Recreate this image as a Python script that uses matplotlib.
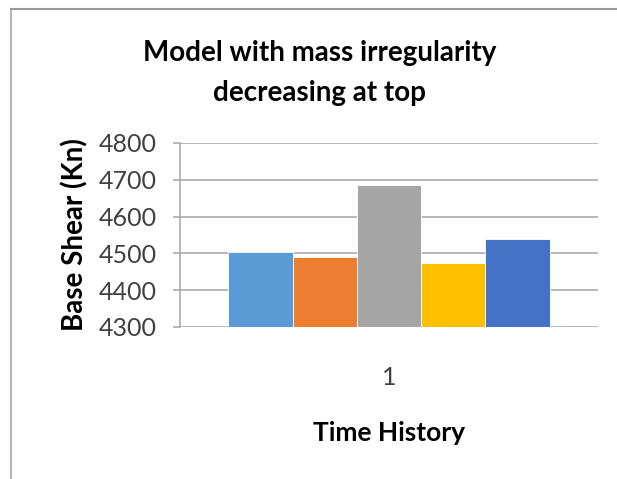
# Base shear bar chart - mass irregularity model
import matplotlib.pyplot as plt
from matplotlib.lines import Line2D

plt.rcParams['font.family'] = ['Lato', 'DejaVu Sans']

# data
categories = ['1']
series_names = ['TH1', 'TH2', 'TH3', 'TH4', 'TH5']
base_shear = [4505, 4489, 4687, 4473, 4538]
colors = ['#5B9BD5', '#ED7D31', '#A5A5A5', '#FFC000', '#4472C4']
y_ticks = [4300, 4400, 4500, 4600, 4700, 4800]

fig = plt.figure(figsize=(6.17, 4.79), dpi=100)
ax = fig.add_axes([180 / 617, 1 - 327 / 479, 418 / 617, 184 / 479])

width = 0.768 / len(base_shear)
for i, (v, c) in enumerate(zip(base_shear, colors)):
    ax.bar(0 + (i - 2) * width, v, width=width, color=c, edgecolor='white',
           linewidth=0.6, label=series_names[i], zorder=3)

ax.set_xlim(-0.5, 0.5)
ax.set_ylim(4300, 4800)
ax.set_yticks(y_ticks)
ax.set_xticks([0])
ax.set_xticklabels(categories)
ax.grid(axis='y', color='#ABABAB', linewidth=1.2, zorder=0)
for s in ['top', 'right', 'bottom']:
    ax.spines[s].set_visible(False)
ax.spines['left'].set_color('#ABABAB')
ax.spines['left'].set_linewidth(1.2)
ax.tick_params(axis='y', length=5, width=1.2, color='#ABABAB', labelsize=18, pad=12, labelcolor='#404040')
ax.tick_params(axis='x', length=0, labelsize=18, pad=28, labelcolor='#404040')

ax.set_ylabel('Base Shear (Kn)', fontsize=20, fontweight='bold', labelpad=7)
ax.set_xlabel('Time History', fontsize=19, fontweight='bold', labelpad=23)
fig.text(0.518, 1 - 73 / 479, 'Model with mass irregularity\ndecreasing at top', ha='center', va='center',
         fontsize=20, fontweight='bold', linespacing=1.7)

# chart border (left and top)
fig.add_artist(Line2D([11 / 617, 11 / 617], [0, 1 - 9 / 479], color='#B5B5B5', linewidth=1.5))
fig.add_artist(Line2D([11 / 617, 1], [1 - 9 / 479, 1 - 9 / 479], color='#999999', linewidth=1.5))

fig.savefig('out.png', dpi=100)
